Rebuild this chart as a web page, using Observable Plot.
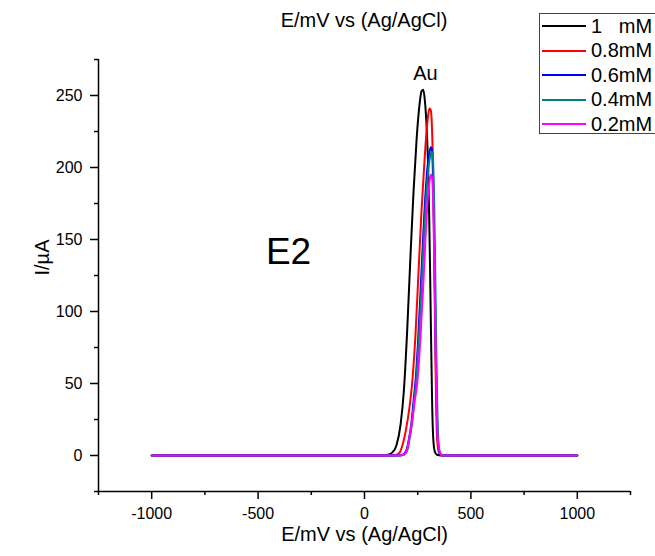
<!DOCTYPE html>
<html>
<head>
<meta charset="utf-8">
<script src="https://cdn.jsdelivr.net/npm/d3@7"></script>
<script src="https://cdn.jsdelivr.net/npm/@observablehq/plot@0.6"></script>
<style>
  html, body { margin: 0; padding: 0; background: #fff; }
  #wrap { position: relative; width: 655px; height: 556px; overflow: hidden; font-family: "Liberation Sans", Arial, sans-serif; }
  #title { position: absolute; left: 0; width: 728px; top: 9px; text-align: center; font-size: 20px; line-height: 23px; color: #000; }
  #legend { position: absolute; left: 539px; top: 13px; width: 125px; height: 121px; border: 1px solid #444; background: #fff; box-sizing: border-box; }
  .item { position: absolute; left: 2px; height: 20px; display: flex; align-items: center; font-size: 20px; white-space: pre; }
  .item .sw { width: 44px; height: 0; border-top: 2px solid; margin-right: 5px; }
  #chart { position: absolute; left: 0; top: 0; }
</style>
</head>
<body>
<div id="wrap">
  <div id="chart"></div>
  <div id="title"></div>
  <div id="legend"></div>
</div>
<script>
// ---- data ----
const seriesNames = ["1   mM", "0.8mM", "0.6mM", "0.4mM", "0.2mM"];
const seriesColors = ["#000000", "#ff0000", "#0000ff", "#008080", "#ff00ff"];

const E_1mM  = [-1000, 0, 90, 110, 130, 150, 170, 185, 200, 215, 230, 245, 258, 268, 276, 284, 292, 298, 303, 308, 313, 318, 323, 330, 340, 360, 1000];
const I_1mM  = [0, 0, 0, 0.5, 2, 7, 22, 45, 85, 135, 182, 220, 243, 253, 254, 246, 228, 205, 175, 130, 80, 35, 12, 3, 0.5, 0, 0];

const E_08mM = [-1000, 0, 130, 150, 165, 180, 195, 210, 225, 240, 254, 268, 280, 290, 298, 305, 311, 317, 322, 326, 330, 334, 338, 343, 350, 370, 1000];
const I_08mM = [0, 0, 0, 0.5, 2, 8, 18, 32, 52, 85, 128, 170, 200, 222, 235, 241, 240, 228, 200, 160, 110, 60, 25, 8, 2, 0, 0];

const E_06mM = [-1000, 0, 160, 180, 195, 207, 220, 232, 240, 250, 262, 275, 288, 298, 306, 312, 316, 320, 325, 330, 335, 340, 345, 352, 365, 1000];
const I_06mM = [0, 0, 0, 0.5, 3, 10, 22, 40, 52, 75, 110, 150, 185, 203, 211, 214, 213, 205, 175, 125, 70, 30, 10, 2, 0, 0];

const E_04mM = [-1000, 0, 165, 185, 200, 210, 223, 235, 243, 253, 265, 278, 291, 301, 309, 315, 319, 323, 328, 333, 338, 343, 348, 355, 368, 1000];
const I_04mM = [0, 0, 0, 0.5, 3, 10, 22, 40, 52, 75, 108, 148, 182, 200, 208, 211, 210, 202, 172, 122, 68, 28, 9, 2, 0, 0];

const E_02mM = [-1000, 0, 165, 185, 198, 208, 222, 236, 249, 262, 275, 288, 298, 305, 310, 314, 318, 323, 328, 333, 338, 344, 352, 365, 1000];
const I_02mM = [0, 0, 0, 0.5, 3, 10, 22, 38, 52, 80, 115, 155, 180, 190, 194, 195, 192, 175, 135, 85, 40, 12, 3, 0, 0];

const xMajorTicks = [-1000, -500, 0, 500, 1000];
const xMinorTicks = [-1250, -750, -250, 250, 750, 1250];
const yMajorTicks = [0, 50, 100, 150, 200, 250];
const yMinorTicks = [-25, 25, 75, 125, 175, 225, 275];
const xDomain = [-1250, 1250];
const yDomain = [-25, 275];

const titleText = "E/mV vs (Ag/AgCl)";
const xLabel = "E/mV vs (Ag/AgCl)";
const yLabel = "I/\u00b5A";
const notes = [
  {text: "E2", E: -357, I: 141, size: 37},
  {text: "Au", E: 286, I: 265, size: 20}
];

// ---- build table ----
const seriesE = [E_1mM, E_08mM, E_06mM, E_04mM, E_02mM];
const seriesI = [I_1mM, I_08mM, I_06mM, I_04mM, I_02mM];
const rows = [];
seriesNames.forEach((name, k) => {
  seriesE[k].forEach((e, i) => rows.push({series: name, E: e, I: seriesI[k][i]}));
});

const font = "'Liberation Sans', Arial, sans-serif";

const chart = Plot.plot({
  width: 655,
  height: 556,
  marginTop: 59,
  marginBottom: 65,
  marginLeft: 98,
  marginRight: 25,
  style: {fontFamily: font, background: "#fff", color: "#000", overflow: "visible"},
  x: {domain: xDomain},
  y: {domain: yDomain},
  color: {domain: seriesNames, range: seriesColors},
  marks: [
    Plot.ruleY([yDomain[0]], {stroke: "#000", strokeWidth: 1.5}),
    Plot.ruleX([xDomain[0]], {stroke: "#000", strokeWidth: 1.5}),
    Plot.axisX({ticks: xMajorTicks, tickSize: 8, tickPadding: 8, fontSize: 16, strokeWidth: 1.5, label: null, tickFormat: d => String(d)}),
    Plot.axisX({ticks: xMinorTicks, tickSize: 4, strokeWidth: 1.5, text: null, label: null}),
    Plot.axisY({ticks: yMajorTicks, tickSize: 8, tickPadding: 8, fontSize: 16, strokeWidth: 1.5, label: null}),
    Plot.axisY({ticks: yMinorTicks, tickSize: 4, strokeWidth: 1.5, text: null, label: null}),
    Plot.line(rows, {x: "E", y: "I", z: "series", stroke: "series", strokeWidth: 2, curve: "monotone-x"}),
    Plot.text(notes, {x: "E", y: "I", text: "text", fontSize: d => d.size, fill: "#000", fontFamily: font}),
    Plot.text([xLabel], {frameAnchor: "bottom", dy: 49, fontSize: 20, fontFamily: font, fill: "#000"}),
    Plot.text([yLabel], {frameAnchor: "left", dx: -56, rotate: -90, fontSize: 20, fontFamily: font, fill: "#000"})
  ]
});
document.getElementById("chart").appendChild(chart);

document.getElementById("title").textContent = titleText;

const legend = document.getElementById("legend");
seriesNames.forEach((name, k) => {
  const div = document.createElement("div");
  div.className = "item";
  div.style.top = (2 + k * 24.5) + "px";
  const sw = document.createElement("span");
  sw.className = "sw";
  sw.style.borderColor = seriesColors[k];
  const lab = document.createElement("span");
  lab.textContent = name;
  div.appendChild(sw);
  div.appendChild(lab);
  legend.appendChild(div);
});
</script>
</body>
</html>
